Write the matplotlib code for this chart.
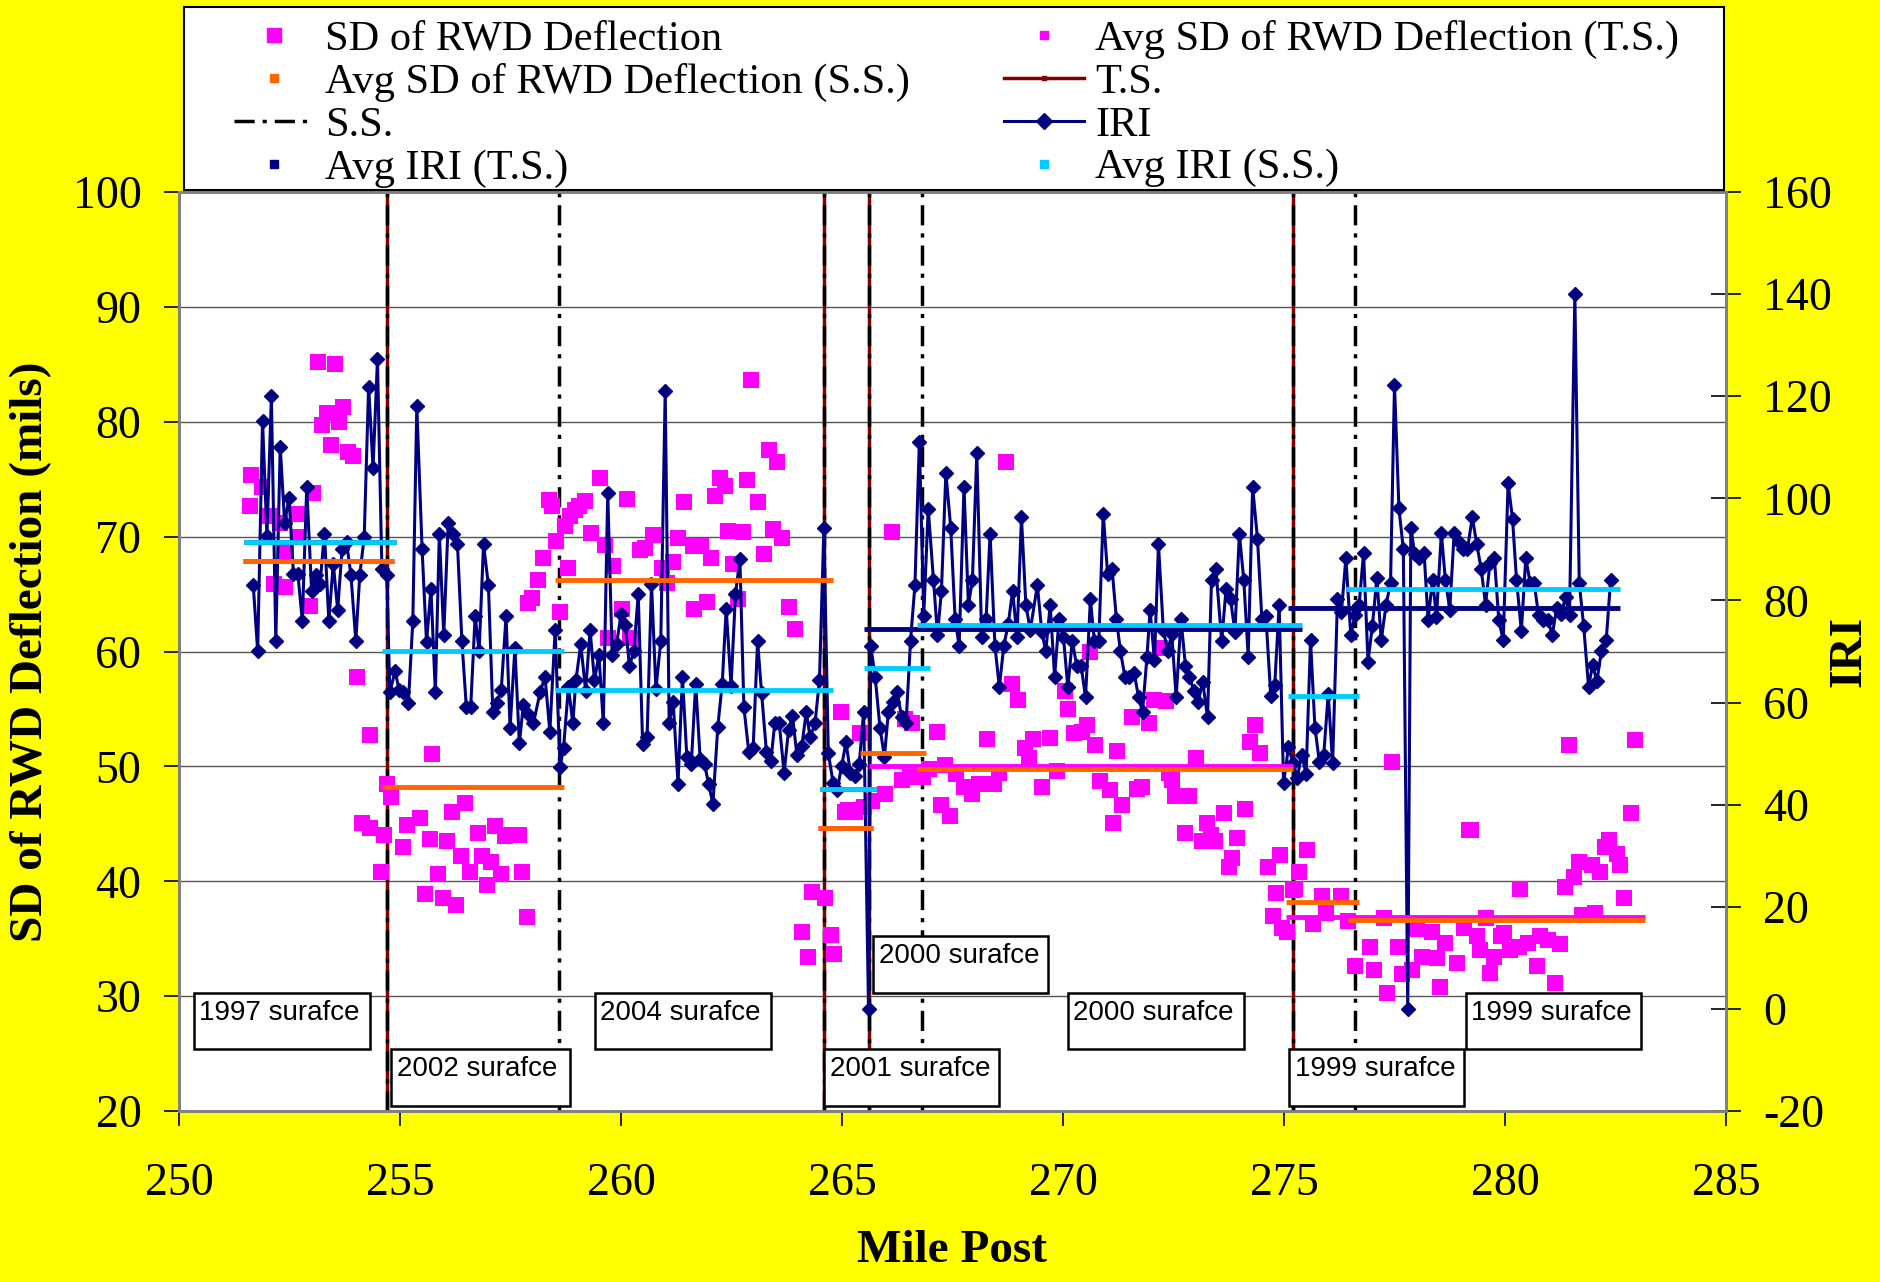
import matplotlib.pyplot as plt
from matplotlib.lines import Line2D
from matplotlib.patches import Rectangle

# === IRI (right axis), read section by section ===
iri_mile_a = [251.68, 251.78, 251.89, 251.99, 252.09, 252.19, 252.29, 252.39, 252.49, 252.59,
              252.69, 252.79, 252.89, 253.00, 253.09, 253.19, 253.29, 253.39, 253.49, 253.59,
              253.69, 253.79, 253.89, 254.00, 254.09, 254.19, 254.29, 254.39, 254.49, 254.59, 254.70]
iri_a = [83.0, 70.0, 115.2, 92.6, 120.0, 72.1, 110.1, 95.2, 100.1, 85.1,
         85.1, 76.0, 102.2, 81.9, 85.0, 83.3, 93.1, 76.0, 87.2, 78.1,
         90.1, 91.4, 85.0, 72.1, 85.0, 92.4, 121.9, 106.0, 127.2, 86.2, 85.0]

iri_mile_b = [254.77, 254.89, 254.98, 255.07, 255.19, 255.29, 255.38, 255.50, 255.60, 255.70,
              255.80, 255.89, 255.99, 256.09, 256.20, 256.30, 256.40, 256.50, 256.60, 256.70,
              256.79, 256.89, 257.00, 257.10, 257.19, 257.29, 257.40, 257.49, 257.60, 257.70,
              257.79, 257.90, 258.02, 258.17, 258.28, 258.39, 258.51, 258.62]
iri_b = [62.0, 66.2, 62.4, 62.0, 59.9, 76.0, 118.1, 90.0, 71.8, 82.3,
         62.0, 93.1, 73.2, 95.2, 93.1, 91.0, 72.1, 59.2, 59.2, 77.0,
         70.0, 91.0, 83.0, 58.1, 59.9, 62.4, 77.0, 55.0, 70.7, 52.0,
         59.5, 57.8, 56.0, 62.0, 65.1, 54.3, 74.2, 47.3]

iri_mile_c = [258.70, 258.81, 258.91, 258.98, 259.09, 259.20, 259.30, 259.40, 259.50, 259.60,
              259.70, 259.80, 259.90, 260.00, 260.10, 260.19, 260.29, 260.39, 260.49, 260.59,
              260.69, 260.79, 260.90, 261.00, 261.09, 261.18, 261.29, 261.39, 261.49, 261.59,
              261.69, 261.79, 261.89, 261.98, 262.08, 262.19, 262.29, 262.38, 262.49, 262.59,
              262.69, 262.78, 262.89, 262.99, 263.09, 263.18, 263.29, 263.39, 263.48, 263.58,
              263.69, 263.79, 263.88, 263.98, 264.09, 264.19, 264.28, 264.39, 264.49, 264.59]
iri_c = [51.1, 63.0, 56.0, 64.4, 71.4, 62.3, 74.2, 64.4, 69.3, 56.0,
         101.1, 69.3, 71.4, 77.3, 75.2, 67.2, 70.0, 81.2, 51.8, 53.2,
         83.3, 62.6, 72.1, 121.0, 56.0, 60.2, 44.1, 65.1, 49.3, 48.0,
         63.7, 49.0, 48.0, 44.1, 40.2, 55.3, 63.7, 78.4, 63.3, 81.2,
         88.2, 59.1, 50.4, 51.1, 72.1, 61.9, 50.4, 48.6, 56.0, 56.0,
         46.2, 54.6, 57.4, 49.7, 51.4, 58.1, 53.2, 56.0, 64.4, 94.1]

iri_mile_d = [264.69, 264.80, 264.89, 264.99, 265.09, 265.19, 265.29, 265.39, 265.49, 265.60,
              265.65, 265.75, 265.86, 265.96, 266.05, 266.15, 266.25, 266.35, 266.45, 266.55,
              266.65, 266.75, 266.85, 266.95, 267.07, 267.16, 267.25, 267.35, 267.46, 267.56,
              267.65, 267.76, 267.86, 267.95, 268.05, 268.16, 268.26, 268.35, 268.46, 268.56,
              268.66, 268.76, 268.86, 268.96, 269.06, 269.16, 269.26, 269.42, 269.52, 269.61,
              269.71, 269.81, 269.91, 270.01, 270.11, 270.21, 270.31, 270.41, 270.51, 270.62,
              270.71, 270.81, 270.91, 271.01, 271.11, 271.21, 271.30, 271.40, 271.50, 271.61,
              271.71, 271.80, 271.90, 271.97, 272.07, 272.16, 272.27, 272.37, 272.46, 272.56,
              272.67, 272.77, 272.86, 272.96, 273.06, 273.16, 273.27, 273.36, 273.46, 273.59,
              273.69, 273.79, 273.89, 273.99, 274.09, 274.19, 274.29, 274.40, 274.50, 274.59,
              274.70, 274.79, 274.89, 274.99, 275.10, 275.21]
iri_d = [50.1, 44.2, 42.8, 47.5, 52.2, 46.3, 45.6, 48.0, 58.2, 0.0,
         71.1, 65.1, 55.0, 49.4, 58.2, 60.2, 62.0, 57.1, 56.0, 72.1,
         83.0, 111.0, 77.0, 98.0, 84.0, 73.2, 81.9, 105.0, 94.2, 76.3,
         71.1, 102.2, 79.1, 84.0, 108.8, 72.8, 76.3, 93.1, 71.1, 63.0,
         71.1, 75.3, 81.9, 72.8, 96.3, 79.1, 74.2, 83.0, 73.9, 70.0,
         79.1, 65.1, 76.3, 72.8, 63.0, 72.1, 67.2, 67.2, 61.0, 80.2,
         72.1, 72.1, 97.0, 85.1, 86.1, 76.3, 70.0, 65.1, 65.1, 65.8,
         61.0, 58.2, 69.0, 78.1, 68.3, 91.0, 74.2, 70.0, 73.5, 61.0,
         76.3, 67.2, 65.1, 62.3, 60.2, 64.1, 57.1, 84.0, 86.1, 72.1,
         82.3, 80.2, 73.9, 93.1, 84.0, 69.0, 102.2, 92.1, 76.3, 77.0,
         61.3, 63.4, 79.1, 44.2, 51.2, 48.1]

iri_mile_e = [275.30, 275.40, 275.50, 275.60, 275.70, 275.80, 275.90, 276.00, 276.10, 276.21,
              276.30, 276.40, 276.51, 276.61, 276.70, 276.80, 276.90, 277.00, 277.10, 277.20,
              277.31, 277.41, 277.50, 277.60, 277.70, 277.80, 277.87, 277.96, 278.06, 278.17,
              278.26, 278.36, 278.45, 278.56, 278.65, 278.75, 278.85, 278.96, 279.05, 279.15,
              279.26, 279.36, 279.46, 279.56, 279.66, 279.76, 279.86, 279.96, 280.07, 280.17,
              280.26, 280.37, 280.47, 280.57, 280.66, 280.76, 280.87, 280.97, 281.07, 281.17,
              281.27, 281.37, 281.46, 281.58, 281.68, 281.78, 281.89, 281.98, 282.08, 282.18,
              282.29, 282.39]
iri_e = [45.3, 49.8, 46.0, 72.2, 55.1, 48.4, 49.8, 61.7, 48.1, 80.3,
         77.8, 88.3, 73.3, 77.1, 79.2, 89.3, 68.0, 75.0, 84.4, 72.2,
         79.2, 83.4, 122.2, 98.1, 90.0, 0.0, 94.2, 89.0, 88.3, 89.3,
         76.1, 84.1, 76.8, 93.2, 84.1, 78.2, 93.2, 91.4, 90.0, 90.0,
         96.3, 91.1, 86.2, 79.2, 87.3, 88.3, 76.1, 72.2, 103.0, 96.0,
         84.1, 74.0, 88.3, 83.4, 83.4, 77.1, 76.1, 76.1, 73.3, 78.5,
         77.4, 80.6, 77.1, 140.0, 83.4, 75.0, 63.1, 67.3, 64.2, 70.1,
         72.2, 84.1]

# === SD of RWD deflection (left axis) ===
sd_mile_a = [251.61, 251.64, 251.87, 252.06, 252.15, 252.28, 252.40, 252.43, 252.66, 252.70,
             252.96, 253.04, 253.14, 253.23, 253.34, 253.43, 253.53, 253.63, 253.72, 253.83,
             253.93, 254.02, 254.15, 254.32, 254.32, 254.57, 254.63]
sd_a = [72.7, 75.4, 74.3, 71.8, 65.9, 71.2, 65.6, 68.7, 72.0, 70.0,
        64.0, 73.8, 85.2, 79.7, 80.8, 78.0, 85.0, 80.0, 81.3, 77.4,
        77.0, 57.8, 45.1, 52.7, 44.6, 40.8, 44.0]

sd_mile_b = [254.70, 254.80, 255.06, 255.15, 255.45, 255.57, 255.67, 255.73, 255.87, 255.97,
             256.06, 256.17, 256.26, 256.38, 256.46, 256.58, 256.76, 256.86, 256.96, 257.06,
             257.15, 257.28, 257.37, 257.50, 257.70, 257.77, 257.87]
sd_b = [48.5, 47.3, 43.0, 44.9, 45.5, 38.9, 43.7, 51.1, 40.6, 38.5,
        43.5, 46.0, 37.9, 42.2, 46.8, 40.8, 44.2, 42.2, 39.7, 41.7,
        44.8, 40.6, 43.9, 44.0, 44.0, 40.8, 36.9]

sd_mile_c = [257.90, 257.98, 258.13, 258.24, 258.36, 258.43, 258.54, 258.62, 258.73, 258.81,
             258.85, 258.96, 259.06, 259.19, 259.33, 259.52, 259.64, 259.71, 259.83, 260.02,
             260.14, 260.20, 260.43, 260.54, 260.73, 260.92, 261.03, 261.18, 261.30, 261.43,
             261.64, 261.66, 261.82, 261.94, 262.03, 262.13, 262.24, 262.35, 262.43, 262.53,
             262.64, 262.75, 262.85, 262.94, 263.09, 263.24, 263.34, 263.45, 263.54, 263.64,
             263.79, 263.94]
sd_c = [64.2, 64.7, 66.2, 68.1, 73.2, 72.7, 69.6, 63.4, 70.9, 67.3,
        71.8, 72.3, 72.7, 73.1, 70.3, 75.1, 69.3, 61.2, 67.4, 63.7,
        73.3, 61.2, 68.8, 69.0, 70.1, 67.3, 66.0, 67.8, 69.9, 73.0,
        69.2, 63.7, 69.2, 64.3, 68.1, 73.5, 75.1, 74.4, 70.5, 67.6,
        64.6, 70.4, 74.9, 83.6, 73.0, 68.5, 77.5, 70.7, 76.5, 69.9,
        63.9, 62.0]

sd_mile_d = [264.09, 264.23, 264.33, 264.62, 264.74, 264.83, 264.98, 265.07, 265.14, 265.30,
             265.41, 265.50, 265.67, 265.97, 266.12, 266.35, 266.43, 266.54, 266.58, 266.84,
             266.96, 267.14, 267.25, 267.33, 267.44, 267.59, 267.75, 267.93, 268.09, 268.27,
             268.43, 268.55, 268.72, 268.84, 268.99, 269.14, 269.22, 269.33, 269.52, 269.71,
             269.86, 270.05, 270.12, 270.24, 270.43, 270.54, 270.62, 270.73, 270.84, 271.07,
             271.14, 271.22, 271.33, 271.56, 271.67, 271.79, 271.94, 272.05, 272.20, 272.32,
             272.39, 272.47, 272.54, 272.77, 272.85, 273.00, 273.15, 273.26, 273.34, 273.45,
             273.64, 273.76, 273.83, 273.94, 274.12, 274.23, 274.35, 274.46, 274.64, 274.76,
             274.83, 274.92, 274.96, 275.06, 275.21]
sd_d = [35.6, 33.4, 39.1, 38.5, 35.3, 33.7, 54.7, 46.0, 46.2, 46.0,
        52.9, 46.5, 47.0, 47.6, 70.4, 48.8, 54.1, 49.1, 53.8, 49.1,
        49.8, 53.0, 46.6, 50.1, 45.7, 49.3, 48.2, 47.6, 48.5, 52.4,
        48.5, 49.4, 76.5, 57.2, 55.8, 51.6, 50.7, 52.4, 48.2, 52.5,
        49.6, 56.6, 55.0, 52.9, 53.0, 53.6, 60.0, 51.9, 48.7, 47.9,
        45.1, 51.3, 46.6, 54.3, 48.0, 48.2, 53.8, 55.8, 60.3, 55.7,
        49.4, 48.8, 47.4, 44.2, 47.4, 50.7, 43.5, 45.1, 44.0, 43.5,
        45.9, 41.2, 42.0, 43.8, 46.3, 52.1, 53.6, 51.2, 41.2, 37.0,
        39.0, 42.3, 35.9, 35.6, 39.2]

sd_mile_e = [275.25, 275.35, 275.51, 275.66, 275.85, 275.96, 276.30, 276.45, 276.60, 276.95,
             277.03, 277.26, 277.33, 277.44, 277.59, 277.67, 277.90, 278.01, 278.13, 278.35,
             278.46, 278.54, 278.65, 278.92, 279.07, 279.18, 279.24, 279.37, 279.44, 279.56,
             279.67, 279.75, 279.90, 279.97, 280.12, 280.31, 280.35, 280.53, 280.72, 280.79,
             280.98, 281.13, 281.25, 281.36, 281.44, 281.55, 281.67, 281.74, 281.97, 282.04,
             282.16, 282.27, 282.35, 282.54, 282.61, 282.69, 282.84, 282.94]
sd_e = [39.3, 40.8, 42.7, 36.3, 38.7, 37.2, 38.7, 36.5, 32.6, 34.3,
        32.3, 36.8, 30.3, 50.4, 34.3, 31.9, 32.3, 35.8, 33.4, 35.6,
        33.3, 30.8, 34.6, 32.9, 35.9, 44.5, 44.5, 35.2, 34.0, 36.8,
        32.0, 33.4, 35.2, 35.5, 34.0, 34.3, 39.3, 34.6, 32.6, 35.2,
        34.9, 31.1, 34.5, 39.5, 51.9, 40.4, 41.7, 37.1, 41.4, 37.2,
        40.8, 43.0, 43.6, 42.4, 41.4, 38.5, 45.9, 52.3]

iri_mile = iri_mile_a + iri_mile_b + iri_mile_c + iri_mile_d + iri_mile_e
iri_value = iri_a + iri_b + iri_c + iri_d + iri_e
sd_mile = sd_mile_a + sd_mile_b + sd_mile_c + sd_mile_d + sd_mile_e
sd_value = sd_a + sd_b + sd_c + sd_d + sd_e

# === section boundaries (mile post) ===
ts_breaks = [254.7, 264.6, 265.6, 275.2]
ss_breaks = [254.7, 258.6, 264.6, 265.6, 266.8, 275.2, 276.6]

# === section averages: start, end, value ===
avg_sd_ss_start = [251.45, 254.6, 258.5, 264.45, 265.4, 266.7, 275.05, 276.45]
avg_sd_ss_end = [254.86, 258.7, 264.8, 265.7, 266.9, 275.2, 276.7, 283.17]
avg_sd_ss = [67.9, 48.2, 66.2, 44.6, 51.2, 49.8, 38.2, 36.6]

avg_sd_ts_start = [251.45, 264.45, 265.6, 275.05]
avg_sd_ts_end = [254.86, 265.7, 275.2, 283.17]
avg_sd_ts = [67.9, 44.6, 50.0, 36.9]

avg_iri_ss_start = [251.47, 254.6, 258.5, 264.5, 265.5, 266.7, 275.1, 276.4]
avg_iri_ss_end = [254.9, 258.7, 264.8, 265.8, 267.0, 275.4, 276.7, 282.6]
avg_iri_ss = [91.4, 70.0, 62.5, 43.0, 66.7, 75.2, 61.3, 82.2]

avg_iri_ts_start = [251.47, 264.5, 265.5, 275.1]
avg_iri_ts_end = [254.9, 265.8, 275.4, 282.6]
avg_iri_ts = [91.4, 43.0, 74.5, 78.5]

# === surface labels ===
surf_text = ["1997 surafce", "2002 surafce", "2004 surafce", "2001 surafce",
             "2000 surafce", "2000 surafce", "1999 surafce", "1999 surafce"]
surf_box = [(250.33, 254.32, 25.4, 30.3), (254.80, 258.85, 20.4, 25.4),
            (259.41, 263.39, 25.4, 30.3), (264.60, 268.56, 20.4, 25.4),
            (265.71, 269.67, 30.3, 35.25), (270.11, 274.09, 25.4, 30.3),
            (275.12, 279.08, 20.4, 25.4), (279.11, 283.08, 25.4, 30.3)]

MAGENTA = '#FF00FF'
ORANGE = '#FF6600'
CYAN = '#00CCFF'
NAVY = '#000080'
DARKRED = '#800000'
SS_DASH = (0, (5.8, 2.3, 1.2, 2.3))

plt.rcParams['font.family'] = ['Liberation Serif', 'DejaVu Serif']
plt.rcParams['axes.unicode_minus'] = False

fig = plt.figure(figsize=(18.81, 12.82), dpi=100, facecolor='#FFFF00')
ax1 = fig.add_axes([179/1881, 1 - 1111/1282, (1726 - 179)/1881, (1111 - 192)/1282])
ax1.set_facecolor('white')
ax2 = ax1.twinx()
ax3 = ax1.twinx()

# grid + section lines on the bottom axes
ax1.set_axisbelow(True)
ax1.yaxis.grid(True, color='#555555', lw=1)
for m in ts_breaks:
    ax1.axvline(m, color=DARKRED, lw=2.5, zorder=2)
for m in ss_breaks:
    ax1.axvline(m, color='black', lw=2.5, ls=SS_DASH, zorder=3)

ax1.plot(sd_mile, sd_value, ls='none', marker='s', ms=12, mfc=MAGENTA, mec=MAGENTA,
         mew=0, zorder=4)

# IRI on the right axis
ax2.plot(iri_mile, iri_value, color=NAVY, lw=2.2, marker='D', ms=7.5, mfc=NAVY, mec=NAVY,
         zorder=3)
ax2.hlines(avg_iri_ts, avg_iri_ts_start, avg_iri_ts_end, color=NAVY, lw=3.5, zorder=4)
ax2.hlines(avg_iri_ss, avg_iri_ss_start, avg_iri_ss_end, color=CYAN, lw=3.5, zorder=5)

# averages of SD on top
ax3.hlines(avg_sd_ts, avg_sd_ts_start, avg_sd_ts_end, color=MAGENTA, lw=3.5, zorder=2)
ax3.hlines(avg_sd_ss, avg_sd_ss_start, avg_sd_ss_end, color=ORANGE, lw=3.5, zorder=3)

for txt, (x0, x1, y0, y1) in zip(surf_text, surf_box):
    ax3.add_patch(Rectangle((x0, y0), x1 - x0, y1 - y0, facecolor='white',
                            edgecolor='black', lw=1.8, zorder=10))
    ax3.annotate(txt, xy=(x0, y1), xytext=(4, -5), textcoords='offset points',
                 ha='left', va='top', fontsize=20, family='Liberation Sans', zorder=11)

# axes settings
ax1.set_xlim(250, 285)
ax1.set_xticks(range(250, 290, 5))
ax1.set_ylim(20, 100)
ax1.set_yticks(range(20, 110, 10))
ax2.set_ylim(-20, 160)
ax2.set_yticks(range(-20, 180, 20))
ax3.set_ylim(20, 100)
ax3.yaxis.set_visible(False)

ax1.tick_params(axis='x', direction='out', length=11, width=1.2, labelsize=33, pad=26)
ax1.tick_params(axis='y', direction='out', length=11, width=1.2, labelsize=33, pad=16)
ax2.tick_params(axis='y', direction='inout', length=22, width=1.2, labelsize=33, pad=16)

for ax in (ax1, ax2):
    for s in ax.spines.values():
        s.set_color('#808080')
        s.set_linewidth(2)
for s in ax3.spines.values():
    s.set_visible(False)

ax1.set_xlabel('Mile Post', fontsize=34, fontweight='bold')
ax1.xaxis.set_label_coords(0.5, -0.13)
ax1.set_ylabel('SD of RWD Deflection (mils)', fontsize=34, fontweight='bold')
ax1.yaxis.set_label_coords(-0.082, 0.5)
ax2.set_ylabel('IRI', fontsize=34, fontweight='bold')
ax2.yaxis.set_label_coords(1.066, 0.5)

# legend: white box drawn separately, entries placed inside it
fig.add_artist(Rectangle((184/1881, 1 - 190/1282), 1540/1881, 183/1282,
                         transform=fig.transFigure, facecolor='white',
                         edgecolor='black', lw=1.5, zorder=4))
handles = [
    Line2D([], [], ls='none', marker='s', ms=10, color=MAGENTA),
    Line2D([], [], ls='none', marker='s', ms=6, color=ORANGE),
    Line2D([], [], color='black', lw=2.5, ls=SS_DASH),
    Line2D([], [], ls='none', marker='s', ms=6, color=NAVY),
    Line2D([], [], ls='none', marker='s', ms=6, color=MAGENTA),
    Line2D([], [], color=DARKRED, lw=2.5, marker='s', ms=3),
    Line2D([], [], color=NAVY, lw=2.2, marker='D', ms=8),
    Line2D([], [], ls='none', marker='s', ms=6, color=CYAN),
]
labels = ["SD of RWD Deflection", "Avg SD of RWD Deflection (S.S.)", "S.S.", "Avg IRI (T.S.)",
          "Avg SD of RWD Deflection (T.S.)", "T.S.", "IRI", "Avg IRI (S.S.)"]
leg = fig.legend(handles, labels, ncol=2, loc='upper left',
                 bbox_to_anchor=((234 - 0.3 * 42.4)/1881, 1 - 7/1282),
                 bbox_transform=fig.transFigure, fontsize=30.5, frameon=False,
                 borderpad=0.3, labelspacing=0.1, handlelength=1.89, handletextpad=0.26,
                 columnspacing=2.22, borderaxespad=0)
leg.set_zorder(5)

plt.savefig('out.png', dpi=100, facecolor=fig.get_facecolor())
